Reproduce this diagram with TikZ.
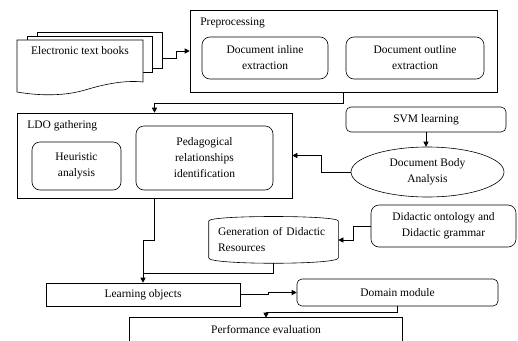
\documentclass[tikz,border=0pt]{standalone}
\usepackage{fontspec}
\setmainfont{Liberation Serif}
\usetikzlibrary{arrows.meta,shapes.geometric}
\begin{document}
\begin{tikzpicture}[x=1pt,y=-1pt, line width=0.6pt,
  every node/.style={font=\fontsize{11.5}{16}\selectfont, align=center},
  bx/.style={draw, rectangle, inner sep=0pt},
  rbx/.style={draw, rectangle, rounded corners=8pt, inner sep=0pt},
  lbl/.style={anchor=west, inner sep=0pt},
  arr/.style={-{Triangle[length=5pt,width=5pt]}}]
\useasboundingbox (0,0) rectangle (518,340);
% multi-document
\draw[fill=white] (37,32) rectangle (162,68);
\draw[fill=white] (27,36) rectangle (152,72);
\draw[fill=white] (17,40) -- (143,40) -- (143,82) .. controls (125,80) and (105,84) .. (85,90) .. controls (65,96) and (40,96) .. (17,92) -- cycle;
\node (books) at (80,51) {Electronic text books};
\coordinate (bk) at (162,58);
% preprocessing
\node[bx, minimum width=307pt, minimum height=82pt] (pre) at (343.5,51) {};
\node[lbl] (prelbl) at (200,23) {Preprocessing};
\node[rbx, minimum width=126pt, minimum height=42pt] (inl) at (265,58) {Document inline\\extraction};
\node[rbx, minimum width=138pt, minimum height=42pt] (outl) at (415,58) {Document outline\\extraction};
% LDO gathering
\node[bx, minimum width=275pt, minimum height=85pt] (ldo) at (154.5,155.5) {};
\node[lbl] (ldolbl) at (27,126) {LDO gathering};
\node[rbx, minimum width=89pt, minimum height=48pt] (heu) at (76.5,166) {Heuristic\\analysis};
\node[rbx, minimum width=137pt, minimum height=64pt] (ped) at (204.5,158) {Pedagogical\\relationships\\identification};
% SVM and DBA
\node[rbx, rounded corners=5pt, minimum width=160pt, minimum height=25pt] (svm) at (426,119.5) {SVM learning};
\node[draw, ellipse, inner sep=0pt, minimum width=153pt, minimum height=50pt] (dba) at (427.5,172) {Document Body\\Analysis};
% cylinder
\node[rectangle, inner xsep=9pt, inner ysep=0pt, text width=111pt, align=left, minimum height=46pt] (gen) at (273.5,240) {Generation of Didactic\\Resources};
\draw (gen.west |- 0,221) .. controls (gen.west |- 0,215) and (gen.east |- 0,215) .. (gen.east |- 0,221)
  -- (gen.east |- 0,258) .. controls (gen.east |- 0,265) and (gen.west |- 0,265) .. (gen.west |- 0,258) -- cycle;
\node[rbx, minimum width=145pt, minimum height=42pt] (did) at (443.5,226) {Didactic ontology and\\Didactic grammar};
% bottom
\node[bx, minimum width=194pt, minimum height=23pt] (lo) at (143,294.5) {Learning objects};
\node[rbx, rounded corners=5pt, minimum width=201pt, minimum height=27pt] (dom) at (397.5,292.5) {Domain module};
\node[rectangle, inner sep=0pt, minimum width=272pt, minimum height=24pt] (perf) at (266,330) {Performance evaluation};
\draw ([yshift=-3pt]perf.south west) -- (perf.north west) -- (perf.north east) -- ([yshift=-3pt]perf.south east);
% connectors
\draw[arr] (bk) -- ++(14,0) |- (pre.west);
\draw[arr] (pre.south) -- ++(0,11) -| (ldo.north);
\draw[arr] (svm.south) -- (svm.south |- dba.north);
\draw[arr] (dba.west) -- ++(-29,0) |- (ldo.east);
\draw[arr] (ldo.south) -- ++(0,42) -| (lo.north);
\draw[shorten >=5pt] (gen.south) -- ++(0,10) -| (lo.north);
\draw[arr] (did.west) -- ++(-17,0) |- (gen.east);
\draw[arr] (lo.east) -- ++(28,0) |- (dom.west);
\draw[arr] (dom.south) -- ++(0,6) -| (perf.north);
\end{tikzpicture}
\end{document}
